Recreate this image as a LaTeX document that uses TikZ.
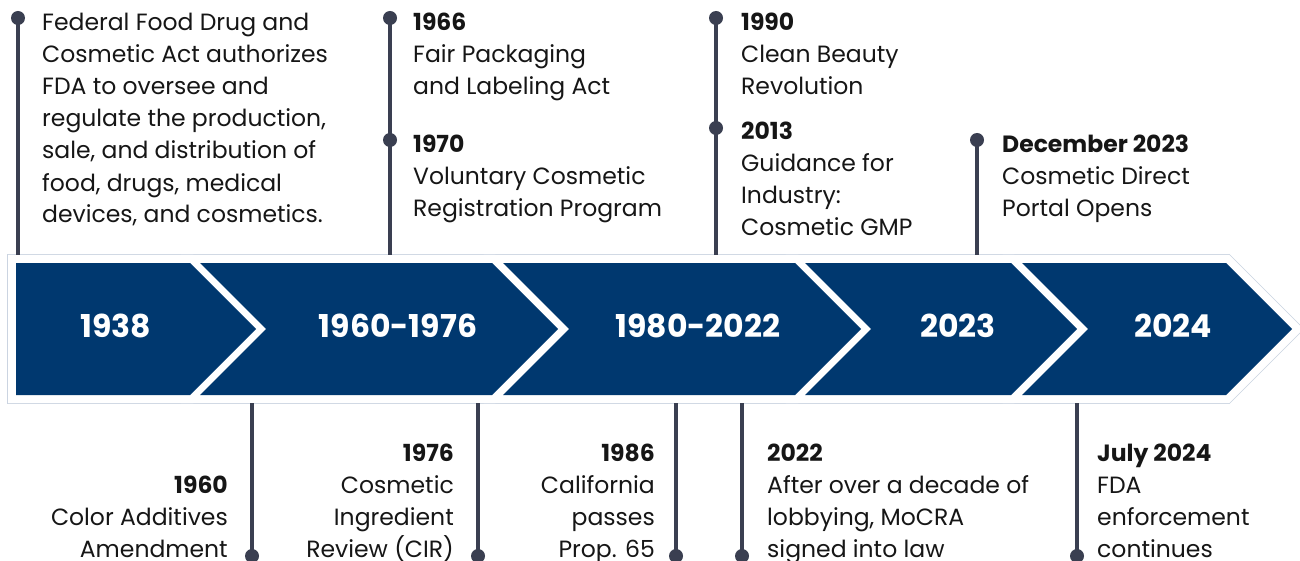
\documentclass[tikz,border=0pt]{standalone}
\usepackage{fontspec}
\setmainfont{Poppins}
\usetikzlibrary{positioning,calc}
\definecolor{navy}{HTML}{00386F}
\definecolor{ink}{HTML}{161616}
\definecolor{stemc}{HTML}{3A3F51}
\definecolor{rim}{HTML}{CBD4E1}
% one chevron of the band: left x, tip x, notch depth
\newcommand{\segpath}[3]{(#1,263) -- ({#2-66},263) -- (#2,329) -- ({#2-66},395) -- (#1,395) -- ({#1+#3},329) -- cycle}
\tikzset{
  rimline/.style={draw=rim,line width=17.6pt,line join=miter},
  gapline/.style={draw=white,line width=16pt,line join=miter},
  segfill/.style={fill=navy},
  era/.style={font=\fontsize{31.5}{36}\selectfont\bfseries,text=white,inner sep=0pt},
  note/.style={font=\fontsize{23.5}{32}\selectfont,text=ink,inner sep=0pt},
  stem/.style={draw=stemc,line width=4pt},
  pin/.style={circle,fill=stemc,minimum size=14pt,inner sep=0pt}
}

\begin{document}
\begin{tikzpicture}[x=1pt,y=-1pt]
  \useasboundingbox[fill=white] (0,0) rectangle (1300,561);

  % band
  \foreach \l/\t/\n in {16/256/0,200/558/66,503/861/66,805/1077/66,1022/1292/66}
    \draw[rimline] \segpath{\l}{\t}{\n};
  \foreach \l/\t/\n in {16/256/0,200/558/66,503/861/66,805/1077/66,1022/1292/66}
    \draw[gapline] \segpath{\l}{\t}{\n};
  \foreach \l/\t/\n in {16/256/0,200/558/66,503/861/66,805/1077/66,1022/1292/66}
    \fill[segfill] \segpath{\l}{\t}{\n};

  \node[era] (e1938) at (116,326) {1938};
  \node[era] (e1960) at (398,326) {1960-1976};
  \node[era] (e1980) at (698,326) {1980-2022};
  \node[era] (e2023) at (958,326) {2023};
  \node[era] (e2024) at (1173,326) {2024};

  % stems above the band
  \coordinate (a1938) at (18,255);
  \coordinate (a1966) at (390,255);
  \coordinate (a1990) at (716,255);
  \coordinate (a2023) at (977,255);
  \node[pin] (p1938) at (18,18) {};
  \node[pin] (p1966) at (390,18) {};
  \node[pin] (p1970) at (390,140) {};
  \node[pin] (p1990) at (716,18) {};
  \node[pin] (p2013) at (716,128) {};
  \node[pin] (p2023) at (977,140) {};
  \draw[stem] (p1938.center) -- (a1938);
  \draw[stem] (p1966.center) -- (a1966);
  \draw[stem] (p1990.center) -- (a1990);
  \draw[stem] (p2023.center) -- (a2023);

  % stems below the band
  \coordinate (b1960) at (252,403);
  \coordinate (b1976) at (478,403);
  \coordinate (b1986) at (676,403);
  \coordinate (b2022) at (742,403);
  \coordinate (b2024) at (1077,403);
  \node[pin] (p1960) at (252,556) {};
  \node[pin] (p1976) at (478,556) {};
  \node[pin] (p1986) at (676,556) {};
  \node[pin] (p2022) at (742,556) {};
  \node[pin] (p2024) at (1077,556) {};
  \foreach \p in {1960,1976,1986,2022,2024}
    \draw[stem] (b\p) -- (p\p.center);

  % notes (base = last line)
  \node[note,anchor=base west,align=left] (n1938) at (42,223)
    {Federal Food Drug and\\Cosmetic Act authorizes\\FDA to oversee and\\regulate the production,\\sale, and distribution of\\food, drugs, medical\\devices, and cosmetics.};
  \node[note,anchor=base west,align=left] (n1966) at (413,95)
    {\textbf{1966}\\Fair Packaging\\and Labeling Act};
  \node[note,anchor=base west,align=left] (n1970) at (413,217)
    {\textbf{1970}\\Voluntary Cosmetic\\Registration Program};
  \node[note,anchor=base west,align=left] (n1990) at (741,95)
    {\textbf{1990}\\Clean Beauty\\Revolution};
  \node[note,anchor=base west,align=left] (n2013) at (741,236)
    {\textbf{2013}\\Guidance for\\Industry:\\Cosmetic GMP};
  \node[note,anchor=base west,align=left] (n2023) at (1002,217)
    {\textbf{December 2023}\\Cosmetic Direct\\Portal Opens};

  \node[note,anchor=base east,align=right] (n1960) at (228,557)
    {\textbf{1960}\\Color Additives\\Amendment};
  \node[note,anchor=base east,align=right] (n1976) at (454,557)
    {\textbf{1976}\\Cosmetic\\Ingredient\\Review (CIR)};
  \node[note,anchor=base east,align=right] (n1986) at (655,557)
    {\textbf{1986}\\California\\passes\\Prop. 65};
  \node[note,anchor=base west,align=left] (n2022) at (767,557)
    {\textbf{2022}\\After over a decade of\\lobbying, MoCRA\\signed into law};
  \node[note,anchor=base west,align=left] (n2024) at (1097,557)
    {\textbf{July 2024}\\FDA\\enforcement\\continues};
\end{tikzpicture}
\end{document}
